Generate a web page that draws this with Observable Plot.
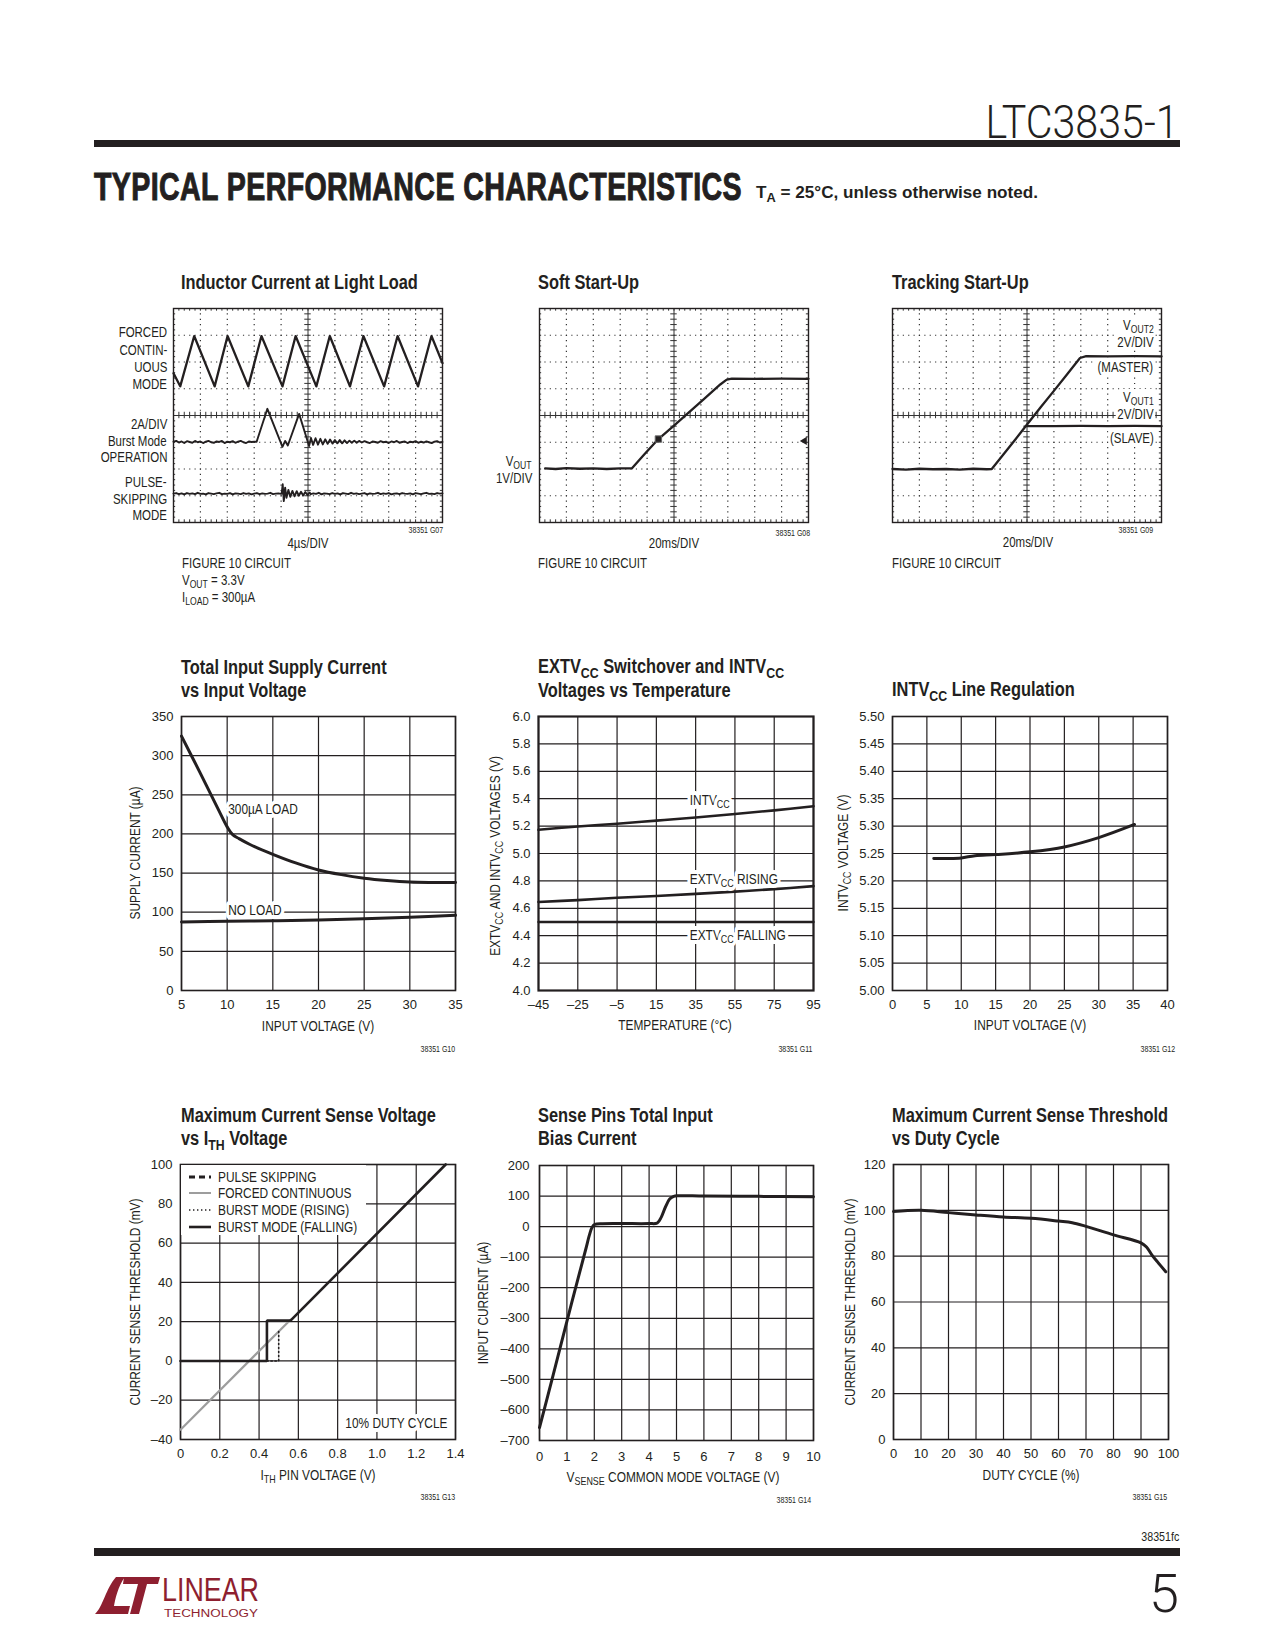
<!DOCTYPE html>
<html><head><meta charset="utf-8">
<script src="https://cdn.jsdelivr.net/npm/d3@7"></script>
<script src="https://cdn.jsdelivr.net/npm/@observablehq/plot@0.6"></script>
<style>
html,body{margin:0;padding:0;background:#fff;}
#page{position:relative;width:1275px;height:1650px;overflow:hidden;background:#fff;color:#231f20;
  font-family:"Liberation Sans",Arial,sans-serif;}
.abs{position:absolute;white-space:nowrap;line-height:1.15;}
.t{font-weight:bold;font-size:20px;line-height:1;}
.n{font-size:14px;line-height:1;}
.ax{font-size:14.5px;line-height:1;}
.g{font-size:8.5px;}
sub{font-size:75%;vertical-align:-0.3em;line-height:0;}
</style></head>
<body><div id="page"></div>
<script>
// ================= DATA =================
// Scope 1 – Inductor Current at Light Load (screen divisions: x 0–10, y 0–8)
const fcTrace = [[0,5.58],[0.25,5.09],[0.77,6.97],[1.53,5.09],[2.01,6.97],[2.78,5.09],[3.27,6.97],[4.05,5.09],[4.54,6.97],[5.31,5.09],[5.81,6.97],[6.56,5.09],[7.06,6.97],[7.83,5.09],[8.33,6.97],[9.09,5.09],[9.59,6.97],[10,5.96]];
const burstPre = [3.02,3.05,2.99,3.03,2.97,3.04,3.01,2.98,3.05,3.00,3.03,2.97,3.02,3.05,3.00,2.98,3.03,3.01,3.05,2.97,3.02,3.00,3.04,2.98,3.02,3.05,3.00,2.97,3.03,3.01,3.02];
const burstPulse = [[3.09,3.02],[3.49,4.25],[4.05,2.83],[4.15,3.05],[4.25,2.88],[4.67,4.06],[5.04,2.86],[5.11,3.16],[5.19,2.9],[5.28,3.15],[5.37,2.91],[5.46,3.13],[5.55,2.92],[5.64,3.11],[5.73,2.94],[5.82,3.1],[5.91,2.95],[6.0,3.08],[6.09,2.96],[6.18,3.08],[6.27,2.96],[6.36,3.07],[6.45,2.97],[6.54,3.06],[6.63,2.98],[6.72,3.06],[6.81,2.98],[6.9,3.05]];
const burstPost = [2.99,3.04,3.0,2.97,3.03,3.01,2.98,3.04,3.0,3.02,2.97,3.03,3.0,3.05,2.98,3.01,3.03,2.97,3.02,3.0,3.04,2.98,3.02,2.99,3.03,3.0,2.97,3.02,3.04,2.99,3.01];
const psPre = [1.08,1.1,1.06,1.09,1.05,1.1,1.07,1.09,1.06,1.11,1.07,1.08,1.05,1.1,1.08,1.06,1.09,1.11,1.06,1.08,1.07,1.1,1.05,1.09,1.08,1.06,1.1,1.07,1.09,1.05,1.08,1.1,1.06,1.09,1.07,1.08,1.11,1.06,1.08,1.09,1.07];
const psSpike = [[4.02,1.08],[4.06,1.43],[4.1,0.8],[4.15,1.3],[4.2,0.92],[4.27,1.22],[4.34,0.96],[4.42,1.18],[4.5,0.98],[4.58,1.17],[4.66,1.0],[4.74,1.15],[4.82,1.01],[4.9,1.14],[4.98,1.03],[5.06,1.12]];
const psPost = [1.06,1.09,1.07,1.11,1.05,1.09,1.08,1.06,1.1,1.07,1.09,1.05,1.1,1.08,1.06,1.11,1.07,1.09,1.06,1.08,1.1,1.05,1.09,1.07,1.08,1.11,1.06,1.09,1.07,1.1,1.05,1.08,1.09,1.06,1.1,1.08,1.07,1.09,1.05,1.1,1.08,1.06,1.09,1.11,1.07,1.08,1.06,1.1,1.08,1.09];
const scope1Labels = [["FORCED",332],["CONTIN-",349.5],["UOUS",366.5],["MODE",384],["2A/DIV",424],["Burst Mode",440.5],["OPERATION",457],["PULSE-",482],["SKIPPING",498.5],["MODE",515]];

// Scope 2 – Soft Start-Up
const softTrace = [[0.21,2.02],[0.6,2.0],[1.0,2.03],[1.5,2.01],[2.0,2.02],[2.5,2.0],[3.0,2.02],[3.43,2.02],[3.9,2.55],[4.42,3.12],[5.0,3.62],[5.48,4.05],[6.1,4.6],[6.72,5.16],[6.96,5.34],[7.15,5.38],[8,5.37],[9,5.38],[10,5.37]];
const softMarker = [[4.42,3.12]];
const softTrigger = [[9.85,3.05]];

// Scope 3 – Tracking Start-Up
const masterTrace = [[0,2.0],[0.5,1.98],[1,2.01],[1.5,1.99],[2,2.0],[2.5,1.98],[3,2.01],[3.5,1.99],[3.69,2.0],[4.5,3.02],[4.95,3.6],[5.5,4.3],[6.0,4.92],[6.5,5.55],[6.97,6.15],[7.2,6.22],[8,6.21],[9,6.22],[10,6.21]];
const slaveTrace = [[4.95,3.6],[6,3.6],[7,3.61],[8,3.6],[9,3.61],[10,3.6]];

// Chart G10 – Total Input Supply Current vs Input Voltage
const c4X = [5,10,15,20,25,30,35];
const c4Y = [0,50,100,150,200,250,300,350];
const c4Load = [[5,325],[7,279],[9,232],[10,209],[10.6,199],[11.3,194],[12.5,186.5],[15,174],[17.5,163],[20,154],[22.5,148],[25,143.5],[27.5,140.5],[30,138.5],[32.5,138],[35,138]];
const c4NoLoad = [[5,87.5],[10,88.5],[15,89],[20,90],[25,91.5],[30,93.5],[35,96]];
const c4Labels = [{x:10,y:231,t:"300µA LOAD"},{x:10,y:103,t:"NO LOAD"}];

// Chart G11 – EXTVcc switchover and INTVcc vs temperature
const c5X = [-45,-25,-5,15,35,55,75,95];
const c5Y = [4.0,4.2,4.4,4.6,4.8,5.0,5.2,5.4,5.6,5.8,6.0];
const c5Intv = [[-45,5.173],[-25,5.197],[-5,5.217],[15,5.24],[35,5.263],[55,5.288],[75,5.315],[95,5.345]];
const c5Rising = [[-45,4.646],[-25,4.66],[-5,4.677],[15,4.69],[35,4.705],[55,4.722],[75,4.74],[95,4.762]];
const c5Falling = [[-45,4.5],[95,4.5]];
const c5Labels = [{x:31.5,y:5.39,t:"INTV{CC}"},{x:31.5,y:4.81,t:"EXTV{CC} RISING"},{x:31.5,y:4.4,t:"EXTV{CC} FALLING"}];

// Chart G12 – INTVcc line regulation
const c6X = [0,5,10,15,20,25,30,35,40];
const c6Y = [5.00,5.05,5.10,5.15,5.20,5.25,5.30,5.35,5.40,5.45,5.50];
const c6Line = [[6,5.241],[8,5.241],[10,5.242],[12,5.246],[15,5.248],[20,5.253],[25,5.262],[30,5.279],[35.2,5.303]];

// Chart G13 – Maximum current sense voltage vs ITH
const c7X = [0,0.2,0.4,0.6,0.8,1.0,1.2,1.4];
const c7Y = [-40,-20,0,20,40,60,80,100];
const c7Forced = [[0,-35],[0.56,21]];
const c7BurstRising = [[0.44,0],[0.5,0],[0.5,15]];
const c7BurstFalling = [[0,0],[0.44,0],[0.44,20.5],[0.56,20.5],[1.35,100]];
const c7Legend = ["PULSE SKIPPING","FORCED CONTINUOUS","BURST MODE (RISING)","BURST MODE (FALLING)"];

// Chart G14 – Sense pins total input bias current
const c8X = [0,1,2,3,4,5,6,7,8,9,10];
const c8Y = [-700,-600,-500,-400,-300,-200,-100,0,100,200];
const c8Bias = [[0,-658],[0.5,-485],[1,-310],[1.5,-138],[1.7,-70],[1.82,-28],[1.92,-2],[2.02,7],[2.3,9.5],[3,10],[4,10],[4.3,12],[4.45,32],[4.6,65],[4.75,90],[4.9,99],[5.05,101],[6,100],[8,99],[10,98]];

// Chart G15 – Maximum current sense threshold vs duty cycle
const c9X = [0,10,20,30,40,50,60,70,80,90,100];
const c9Y = [0,20,40,60,80,100,120];
const c9Line = [[0,99.5],[10,100],[20,99],[30,98],[40,97.1],[50,96.5],[60,95.3],[65,94.6],[70,93],[80,89.3],[90,85.8],[92,84],[94,80.5],[96,77.5],[99,73.2]];

// ================= HELPERS =================
const INK = "#231f20";
const SX = 0.82;                       // Arial-Narrow style horizontal compression
const NARROW = "narrowtxt,'Liberation Sans',Arial,sans-serif";
const REG = "'Liberation Sans',Arial,sans-serif";
const page = document.getElementById("page");
const seq = (x0, ys) => ys.map((y, i) => [+(x0 + i * 0.1).toFixed(2), y]);
const px = d => d[0], py = d => d[1];
const minusFmt = d => d < 0 ? "–" + Math.abs(d) : String(d);

function txt(html, x, y, o = {}) {
  const d = document.createElement("div");
  d.className = "abs " + (o.cls || "");
  d.innerHTML = html;
  const a = o.anchor || "start";
  const sc = o.fitW ? "" : ` scaleX(${o.sx ?? SX})`;
  d.style.top = y + "px";
  if (o.rotate) {
    d.style.left = x + "px";
    d.style.transform = "translate(-50%,-50%) rotate(-90deg)" + sc;
  } else if (a === "start") {
    d.style.left = x + "px"; d.style.transformOrigin = "left center"; d.style.transform = "translateY(-50%)" + sc;
  } else if (a === "end") {
    d.style.right = (1275 - x) + "px"; d.style.transformOrigin = "right center"; d.style.transform = "translateY(-50%)" + sc;
  } else {
    d.style.left = x + "px"; d.style.transform = "translate(-50%,-50%)" + sc;
  }
  if (o.style) Object.assign(d.style, o.style);
  page.appendChild(d);
  if (o.fitW) { const w = d.getBoundingClientRect().width; d.style.transform += ` scaleX(${o.fitW / w})`; }
  return d;
}

function subs(svg) {
  const NS = "http://www.w3.org/2000/svg";
  svg.querySelectorAll("text, tspan").forEach(el => {
    for (const node of [...el.childNodes]) {
      if (node.nodeType !== 3 || !node.nodeValue.includes("{")) continue;
      const parts = node.nodeValue.split(/(\{[^}]*\})/).filter(Boolean);
      const frag = document.createDocumentFragment();
      let down = false;
      for (const p of parts) {
        const t = document.createElementNS(NS, "tspan");
        if (p[0] === "{") { t.textContent = p.slice(1, -1); t.setAttribute("font-size", "75%"); t.setAttribute("dy", "3"); down = true; }
        else { t.textContent = p; if (down) { t.setAttribute("dy", "-3"); down = false; } }
        frag.appendChild(t);
      }
      el.replaceChild(frag, node);
    }
  });
  // narrow (condensed) text marks
  svg.querySelectorAll('g[font-family^="narrowtxt"] text').forEach(t => {
    const x = t.getAttribute("x");
    if (x != null) t.setAttribute("x", +x / SX);
    t.setAttribute("transform", (t.getAttribute("transform") || "") + ` scale(${SX},1)`);
  });
}

function chart(o) {
  const ml = o.ml ?? 50, mr = o.mr ?? 20, mt = o.mt ?? 12, mb = o.mb ?? 30;
  const svg = Plot.plot({
    width: ml + o.w + mr, height: mt + o.h + mb,
    marginLeft: ml, marginRight: mr, marginTop: mt, marginBottom: mb,
    style: {fontFamily: REG, fontSize: "13px", color: INK, background: "transparent", overflow: "visible", maxWidth: "none"},
    x: o.x, y: o.y, marks: o.marks
  });
  const d = document.createElement("div");
  d.className = "abs";
  d.style.left = (o.left - ml) + "px"; d.style.top = (o.top - mt) + "px"; d.style.lineHeight = "0";
  d.appendChild(svg); page.appendChild(d);
  subs(svg);
  return svg;
}

function graph(o) {
  const grid = {stroke: INK, strokeOpacity: 1, strokeWidth: 1.2};
  return chart({
    left: o.left, top: o.top, w: o.w, h: o.h,
    x: {domain: o.xd}, y: {domain: o.yd},
    marks: [
      Plot.gridX(o.xt, grid),
      Plot.gridY(o.yt, grid),
      Plot.frame({stroke: INK, strokeWidth: o.frameW || 1.6}),
      ...o.marks,
      Plot.axisX(o.xt, {tickSize: 0, tickPadding: o.xpad ?? 9, label: null, tickFormat: o.xf || minusFmt}),
      Plot.axisY(o.yt, {tickSize: 0, tickPadding: o.ypad ?? 8, label: null, tickFormat: o.yf || minusFmt})
    ]
  });
}

function scope(o) {
  const dotX = {stroke: "#333", strokeOpacity: 1, strokeWidth: 1.2, strokeDasharray: "1.2,4.15"};
  const dotY = {stroke: "#333", strokeOpacity: 1, strokeWidth: 1.2, strokeDasharray: "1.2,4.18"};
  const minorX = d3.range(0, 10.001, 0.2), minorY = d3.range(0, 8.001, 0.2);
  const tk = {stroke: "#333", strokeWidth: 1};
  return chart({
    left: o.left, top: o.top, w: 269, h: 214, ml: 10, mr: 10, mt: 10, mb: 10,
    x: {domain: [0, 10], axis: null}, y: {domain: [0, 8], axis: null},
    marks: [
      Plot.gridX(d3.range(1, 10).filter(v => v !== 5), dotX),
      Plot.gridY(d3.range(1, 8).filter(v => v !== 4), dotY),
      Plot.ruleX([5], tk), Plot.ruleY([4], tk),
      Plot.ruleX(minorX, {y1: 3.88, y2: 4.12, ...tk}),
      Plot.ruleY(minorY, {x1: 4.88, x2: 5.12, ...tk}),
      Plot.ruleX(minorX, {y1: 7.9, y2: 8, ...tk}),
      Plot.ruleX(minorX, {y1: 0, y2: 0.1, ...tk}),
      Plot.ruleY(minorY, {x1: 0, x2: 0.08, ...tk}),
      Plot.ruleY(minorY, {x1: 9.92, x2: 10, ...tk}),
      Plot.frame({stroke: INK, strokeWidth: 1.4}),
      ...o.marks
    ]
  });
}
const trace = (data, extra = {}) => Plot.line(data, {x: px, y: py, stroke: INK, strokeWidth: 2.3, strokeLinejoin: "round", ...extra});
const curve = (data, extra = {}) => Plot.line(data, {x: px, y: py, stroke: INK, strokeWidth: 3, curve: "catmull-rom", ...extra});
const halo = (data, extra = {}) => Plot.text(data, {x: "x", y: "y", text: "t", textAnchor: "start", dx: 1, fill: INK, stroke: "white", strokeWidth: 8, fontFamily: NARROW, fontSize: 14.5, ...extra});

// ================= PAGE HEADER =================
txt("LTC3835-1", 1179, 121.5, {anchor: "end", style: {fontFamily: "Roboto, sans-serif", fontWeight: "300", fontSize: "46px"}, fitW: 193});
const bar1 = document.createElement("div"); bar1.className = "abs";
Object.assign(bar1.style, {left: "94px", top: "140px", width: "1086px", height: "7px", background: INK}); page.appendChild(bar1);
txt("TYPICAL PERFORMANCE CHARACTERISTICS", 94, 188, {style: {fontWeight: "bold", fontSize: "38px", webkitTextStroke: "1px " + INK, letterSpacing: "0.5px"}, fitW: 648});
txt("T<sub>A</sub> = 25°C, unless otherwise noted.", 756, 192.5, {style: {fontWeight: "bold", fontSize: "17px"}, fitW: 282});

// ================= ROW 1 : SCOPES =================
// Scope 1
txt("Inductor Current at Light Load", 181, 281.5, {cls: "t"});
scope({left: 173, top: 308, marks: [
  trace(fcTrace),
  trace([...seq(0, burstPre), ...burstPulse, ...seq(7, burstPost)], {strokeWidth: 1.9}),
  trace([...seq(0, psPre), ...psSpike, ...seq(5.1, psPost)], {strokeWidth: 1.9})
]});
scope1Labels.forEach(([s, y]) => txt(s, 167, y, {cls: "n", anchor: "end"}));
txt("38351 G07", 443, 531, {cls: "g", anchor: "end"});
txt("4µs/DIV", 308, 542.5, {cls: "n", anchor: "middle"});
txt("FIGURE 10 CIRCUIT", 182, 563, {cls: "n"});
txt("V<sub>OUT</sub> = 3.3V", 182, 580, {cls: "n"});
txt("I<sub>LOAD</sub> = 300µA", 182, 597, {cls: "n"});

// Scope 2
txt("Soft Start-Up", 538, 281.5, {cls: "t"});
scope({left: 539, top: 308, marks: [
  trace(softTrace),
  Plot.dot(softMarker, {x: px, y: py, symbol: "square", r: 3.6, fill: INK, stroke: "#666", strokeWidth: 1}),
  Plot.dot(softTrigger, {x: px, y: py, symbol: "triangle", rotate: -90, r: 3, fill: INK})
]});
txt("V<sub>OUT</sub>", 532, 460.5, {cls: "n", anchor: "end"});
txt("1V/DIV", 532, 477.5, {cls: "n", anchor: "end"});
txt("38351 G08", 810, 534, {cls: "g", anchor: "end"});
txt("20ms/DIV", 674, 543, {cls: "n", anchor: "middle"});
txt("FIGURE 10 CIRCUIT", 538, 563, {cls: "n"});

// Scope 3
txt("Tracking Start-Up", 892, 281.5, {cls: "t"});
scope({left: 892, top: 308, marks: [trace(masterTrace), trace(slaveTrace)]});
const wbg = {background: "#fff", padding: "1px 2px"};
txt("V<sub>OUT2</sub>", 1155, 325, {cls: "n", anchor: "end", style: wbg});
txt("2V/DIV", 1155, 341.5, {cls: "n", anchor: "end", style: wbg});
txt("(MASTER)", 1155, 367, {cls: "n", anchor: "end", style: wbg});
txt("V<sub>OUT1</sub>", 1155, 396.5, {cls: "n", anchor: "end", style: wbg});
txt("2V/DIV", 1155, 414, {cls: "n", anchor: "end", style: wbg});
txt("(SLAVE)", 1155, 437.5, {cls: "n", anchor: "end", style: wbg});
txt("38351 G09", 1153, 531, {cls: "g", anchor: "end"});
txt("20ms/DIV", 1028, 541.5, {cls: "n", anchor: "middle"});
txt("FIGURE 10 CIRCUIT", 892, 563, {cls: "n"});

// ================= ROW 2 =================
txt("Total Input Supply Current", 181, 667, {cls: "t"});
txt("vs Input Voltage", 181, 690, {cls: "t"});
graph({left: 181, top: 716, w: 274, h: 274, xd: [5, 35], yd: [0, 350], xt: c4X, yt: c4Y, marks: [
  curve(c4Load), curve(c4NoLoad), halo(c4Labels)
]});
txt("SUPPLY CURRENT (µA)", 135, 853, {cls: "ax", rotate: true});
txt("INPUT VOLTAGE (V)", 318, 1026, {cls: "ax", anchor: "middle"});
txt("38351 G10", 455, 1050, {cls: "g", anchor: "end"});

txt("EXTV<sub>CC</sub> Switchover and INTV<sub>CC</sub>", 538, 666, {cls: "t"});
txt("Voltages vs Temperature", 538, 690, {cls: "t"});
graph({left: 538, top: 716, w: 275, h: 274, xd: [-45, 95], yd: [4, 6], xt: c5X, yt: c5Y, frameW: 2.2, yf: d => d.toFixed(1), marks: [
  curve(c5Intv, {strokeWidth: 2.6}), curve(c5Rising, {strokeWidth: 2.6}), curve(c5Falling, {strokeWidth: 2.4}), halo(c5Labels)
]});
txt("EXTV<sub>CC</sub> AND INTV<sub>CC</sub> VOLTAGES (V)", 495, 856, {cls: "ax", rotate: true});
txt("TEMPERATURE (°C)", 675, 1025, {cls: "ax", anchor: "middle"});
txt("38351 G11", 812, 1050, {cls: "g", anchor: "end"});

txt("INTV<sub>CC</sub> Line Regulation", 892, 689, {cls: "t"});
graph({left: 892, top: 716, w: 275, h: 274, xd: [0, 40], yd: [5, 5.5], xt: c6X, yt: c6Y, yf: d => d.toFixed(2), marks: [
  curve(c6Line)
]});
txt("INTV<sub>CC</sub> VOLTAGE (V)", 843, 853, {cls: "ax", rotate: true});
txt("INPUT VOLTAGE (V)", 1029.5, 1025, {cls: "ax", anchor: "middle"});
txt("38351 G12", 1175, 1050, {cls: "g", anchor: "end"});

// ================= ROW 3 =================
txt("Maximum Current Sense Voltage", 181, 1114.5, {cls: "t"});
txt("vs I<sub>TH</sub> Voltage", 181, 1137.5, {cls: "t"});
graph({left: 180, top: 1164, w: 275, h: 275, xd: [0, 1.4], yd: [-40, 100], xt: c7X, yt: c7Y,
  xf: d => d === 0 ? "0" : d.toFixed(1), marks: [
  Plot.line(c7Forced, {x: px, y: py, stroke: "#9d9d9d", strokeWidth: 2.2}),
  Plot.line(c7BurstRising, {x: px, y: py, stroke: INK, strokeWidth: 1.6, strokeDasharray: "1.4,2.6"}),
  Plot.line(c7BurstFalling, {x: px, y: py, stroke: INK, strokeWidth: 2.6, strokeLinejoin: "miter"}),
  Plot.text(["10% DUTY CYCLE"], {frameAnchor: "bottom-right", textAnchor: "end", lineAnchor: "middle", dx: -8, dy: -16,
    fill: INK, stroke: "white", strokeWidth: 8, fontFamily: NARROW, fontSize: 14.5})
]});
// legend
(function () {
  const box = document.createElement("div"); box.className = "abs";
  Object.assign(box.style, {left: "181px", top: "1165px", width: "185px", height: "70px", background: "#fff"});
  const styles = [
    {stroke: INK, w: 3, dash: "6,4"},
    {stroke: "#9d9d9d", w: 2, dash: null},
    {stroke: INK, w: 1.6, dash: "1.4,2.6"},
    {stroke: INK, w: 2.6, dash: null}
  ];
  c7Legend.forEach((lab, i) => {
    const cy = 11.7 + i * 16.7;
    const s = styles[i];
    const sv = `<svg width="24" height="6" style="position:absolute;left:7px;top:${cy - 3}px;overflow:visible"><line x1="1" y1="3" x2="23" y2="3" stroke="${s.stroke}" stroke-width="${s.w}" ${s.dash ? `stroke-dasharray="${s.dash}"` : ""}/></svg>`;
    box.insertAdjacentHTML("beforeend", sv + `<div class="abs ax" style="left:37px;top:${cy}px;transform-origin:left center;transform:translateY(-50%) scaleX(${SX})">${lab}</div>`);
  });
  page.appendChild(box);
})();
txt("CURRENT SENSE THRESHOLD (mV)", 135, 1301.5, {cls: "ax", rotate: true});
txt("I<sub>TH</sub> PIN VOLTAGE (V)", 318, 1475, {cls: "ax", anchor: "middle"});
txt("38351 G13", 455, 1498, {cls: "g", anchor: "end"});

txt("Sense Pins Total Input", 538, 1114.5, {cls: "t"});
txt("Bias Current", 538, 1137.5, {cls: "t"});
graph({left: 539, top: 1165, w: 274, h: 275, xd: [0, 10], yd: [-700, 200], xt: c8X, yt: c8Y, xpad: 11, ypad: 10, marks: [
  curve(c8Bias)
]});
txt("INPUT CURRENT (µA)", 483, 1302.5, {cls: "ax", rotate: true});
txt("V<sub>SENSE</sub> COMMON MODE VOLTAGE (V)", 673, 1477, {cls: "ax", anchor: "middle"});
txt("38351 G14", 811, 1501, {cls: "g", anchor: "end"});

txt("Maximum Current Sense Threshold", 892, 1114.5, {cls: "t"});
txt("vs Duty Cycle", 892, 1137.5, {cls: "t"});
graph({left: 893, top: 1164, w: 275, h: 275, xd: [0, 100], yd: [0, 120], xt: c9X, yt: c9Y, marks: [
  curve(c9Line)
]});
txt("CURRENT SENSE THRESHOLD (mV)", 850, 1301.5, {cls: "ax", rotate: true});
txt("DUTY CYCLE (%)", 1030.5, 1475, {cls: "ax", anchor: "middle"});
txt("38351 G15", 1167, 1498, {cls: "g", anchor: "end"});

// ================= FOOTER =================
txt("38351fc", 1179, 1537, {anchor: "end", style: {fontSize: "13px"}});
const bar2 = document.createElement("div"); bar2.className = "abs";
Object.assign(bar2.style, {left: "94px", top: "1548px", width: "1086px", height: "8px", background: INK}); page.appendChild(bar2);
txt("5", 1179, 1594, {anchor: "end", sx: 1, style: {fontFamily: "Roboto, sans-serif", fontWeight: "300", fontSize: "54px"}});
page.insertAdjacentHTML("beforeend", `<svg class="abs" style="left:94px;top:1564px;overflow:visible" width="172" height="58" viewBox="0 0 172 58">
  <g fill="#8e1f30">
    <path d="M1,50 C9,43 12,24 22,13 L31,13 C24,22 21,36 20,42 L36,42 L34,50 Z"/>
    <path d="M30,13 L66,13 L64,20 L53,20 L45,50 L36,50 L44,20 L29,20 Z"/>
    <text x="68" y="37" font-family="'Liberation Sans',sans-serif" font-size="34" textLength="97" lengthAdjust="spacingAndGlyphs">LINEAR</text>
    <text x="70" y="52.5" font-family="'Liberation Sans',sans-serif" font-size="10" textLength="94" lengthAdjust="spacingAndGlyphs">TECHNOLOGY</text>
  </g></svg>`);
</script>
</body></html>
